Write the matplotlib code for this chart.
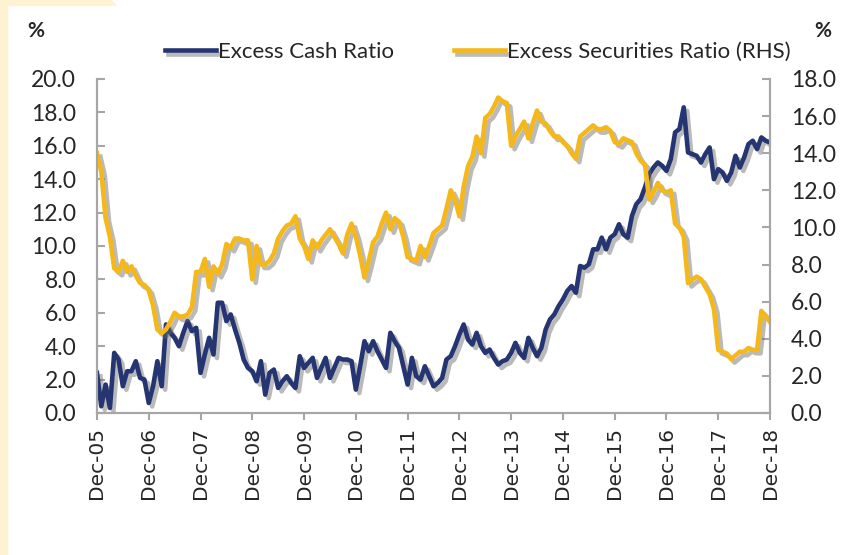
import numpy as np
import matplotlib
matplotlib.use("Agg")
from matplotlib import pyplot as plt
from matplotlib import patheffects as pe
from matplotlib.patches import Polygon

#############################################
# Data (monthly, Dec-05 .. Dec-18)

tick_labels = ["Dec-05", "Dec-06", "Dec-07", "Dec-08", "Dec-09", "Dec-10", "Dec-11",
               "Dec-12", "Dec-13", "Dec-14", "Dec-15", "Dec-16", "Dec-17", "Dec-18"]

cash_ratio = [
    2.4, 0.4, 1.7, 0.3, 3.6, 3.2, 1.6, 2.5, 2.5, 3.1, 2.1, 2.0,
    0.6, 1.6, 3.1, 1.6, 5.3, 4.8, 4.5, 4.0, 4.8, 5.5, 4.9, 5.1,
    2.4, 3.5, 4.5, 3.5, 6.6, 6.6, 5.5, 5.9, 5.0, 4.2, 3.2, 2.7,
    2.5, 1.9, 3.1, 1.1, 2.4, 2.6, 1.5, 1.9, 2.2, 1.8, 1.5, 3.4,
    2.7, 3.0, 3.3, 2.1, 2.7, 3.3, 2.1, 2.7, 3.3, 3.2, 3.2, 3.1,
    1.4, 2.8, 4.3, 3.7, 4.3, 3.7, 3.2, 2.7, 4.8, 4.3, 3.9, 2.8,
    1.7, 3.3, 2.2, 2.0, 2.8, 2.2, 1.6, 1.8, 2.1, 3.2, 3.4, 4.0,
    4.7, 5.3, 4.4, 4.1, 4.8, 4.0, 3.6, 3.8, 3.3, 2.9, 3.1, 3.2,
    3.6, 4.2, 3.6, 3.3, 4.5, 3.9, 3.4, 3.9, 5.0, 5.6, 5.9, 6.4,
    6.8, 7.3, 7.6, 7.2, 8.8, 8.7, 8.9, 9.8, 9.8, 10.5, 9.8, 10.5,
    10.7, 11.3, 10.7, 10.5, 11.8, 12.5, 12.8, 13.5, 14.3, 14.7, 15.0, 14.8,
    14.5, 15.2, 16.8, 17.0, 18.3, 15.6, 15.5, 15.4, 15.0, 15.5, 15.9, 14.0,
    14.6, 14.4, 13.9, 14.4, 15.4, 14.7, 15.3, 16.1, 16.3, 15.8, 16.5, 16.3,
    16.2,
]

securities_ratio = [
    14.0, 13.0, 10.5, 9.5, 7.8, 7.6, 8.2, 7.6, 7.9, 7.4, 7.0, 6.9,
    6.6, 5.8, 4.5, 4.3, 4.5, 4.9, 5.4, 5.2, 5.2, 5.3, 5.7, 7.6,
    7.6, 8.3, 6.8, 7.9, 7.5, 8.0, 9.1, 8.9, 9.4, 9.4, 9.3, 9.3,
    7.2, 9.0, 8.0, 8.0, 8.2, 8.6, 9.4, 9.8, 10.1, 10.2, 10.6, 9.4,
    9.0, 8.3, 9.3, 8.9, 9.3, 9.6, 9.9, 9.5, 9.1, 8.6, 9.6, 10.2,
    9.5, 8.5, 7.3, 8.2, 9.2, 9.5, 10.2, 10.8, 9.9, 10.5, 10.3, 9.5,
    8.4, 8.3, 8.2, 9.0, 8.4, 9.0, 9.7, 9.9, 10.1, 11.0, 12.0, 11.5,
    10.6, 12.2, 13.3, 13.8, 14.9, 14.0, 15.9, 16.1, 16.5, 17.0, 16.8, 16.7,
    14.4, 14.9, 15.3, 15.7, 14.8, 15.6, 16.3, 15.7, 15.6, 15.2, 14.9, 14.9,
    14.6, 14.4, 14.0, 13.7, 14.9, 15.1, 15.3, 15.5, 15.3, 15.3, 15.4, 15.2,
    14.6, 14.5, 14.8, 14.7, 14.6, 14.0, 13.6, 13.4, 11.5, 11.9, 12.4, 12.0,
    11.9, 12.0, 10.2, 10.0, 9.5, 7.0, 7.2, 7.35, 7.2, 6.8, 6.4, 5.6,
    3.4, 3.3, 3.2, 2.9, 3.1, 3.3, 3.3, 3.5, 3.4, 3.4, 5.5, 5.2,
    4.9,
]

#############################################
# Styles

navy = "#243572"
gold = "#F4B81A"
axis_grey = "#A6A6A6"
text_col = "#262626"
plt.rcParams['font.family'] = ['Lato', 'DejaVu Sans']

months = np.arange(len(cash_ratio))

fig = plt.figure(figsize=(8.41, 5.55), dpi=100)
fig.patch.set_facecolor("white")

# cream frame in the corner
cream = "#FDF3D3"
fig.patches.append(Polygon([[0, 0], [0.010, 0], [0.010, 0.989], [0.140, 0.989],
                            [0.133, 1], [0, 1]], closed=True,
                           transform=fig.transFigure, facecolor=cream,
                           edgecolor="none", zorder=0))

ax = fig.add_axes([0.1153, 0.2559, 0.8003, 0.6018])
ax2 = ax.twinx()

shadow = [pe.SimpleLineShadow(offset=(2.5, -2.5), shadow_color="#666666", alpha=0.45),
          pe.Normal()]

l1, = ax.plot(months, cash_ratio, color=navy, lw=3.3, solid_joinstyle="round",
              path_effects=shadow, label="Excess Cash Ratio", zorder=3)
l2, = ax2.plot(months, securities_ratio, color=gold, lw=3.3, solid_joinstyle="round",
               path_effects=shadow, label="Excess Securities Ratio (RHS)", zorder=2)

ax.set_xlim(0, 156)
ax.set_ylim(0, 20)
ax2.set_ylim(0, 18)
ax.set_yticks(np.arange(0, 21, 2))
ax.set_yticklabels([f"{v:.1f}" for v in np.arange(0, 21, 2)])
ax2.set_yticks(np.arange(0, 19, 2))
ax2.set_yticklabels([f"{v:.1f}" for v in np.arange(0, 19, 2)])
ax.set_xticks(np.arange(0, 157, 12))
ax.set_xticklabels(tick_labels, rotation=90, family="DejaVu Sans", fontsize=14.5,
                   color=text_col)

for a in (ax, ax2):
    for s in a.spines.values():
        s.set_color(axis_grey)
        s.set_linewidth(1.5)
    a.spines["top"].set_visible(False)

ax.tick_params(axis="y", direction="in", length=6, width=1.5, color=axis_grey,
               labelsize=16.5, labelcolor=text_col, pad=15)
ax2.tick_params(axis="y", direction="in", length=6, width=1.5, color=axis_grey,
                labelsize=16.5, labelcolor=text_col, pad=15)
ax.tick_params(axis="x", direction="out", length=5, width=1.5, color=axis_grey, pad=5)

fig.text(0.042, 0.945, "%", fontsize=15, fontweight="bold", color=text_col,
         ha="center", va="center")
fig.text(0.978, 0.945, "%", fontsize=15, fontweight="bold", color=text_col,
         ha="center", va="center")

fig.legend([l1, l2], ["Excess Cash Ratio", "Excess Securities Ratio (RHS)"],
           loc="center", bbox_to_anchor=(0.568, 0.906), ncol=2, frameon=False,
           fontsize=16, handlelength=2.3, handletextpad=0.1, columnspacing=2.7,
           labelcolor=text_col)

fig.savefig("out.png", dpi=100, facecolor=fig.get_facecolor())
